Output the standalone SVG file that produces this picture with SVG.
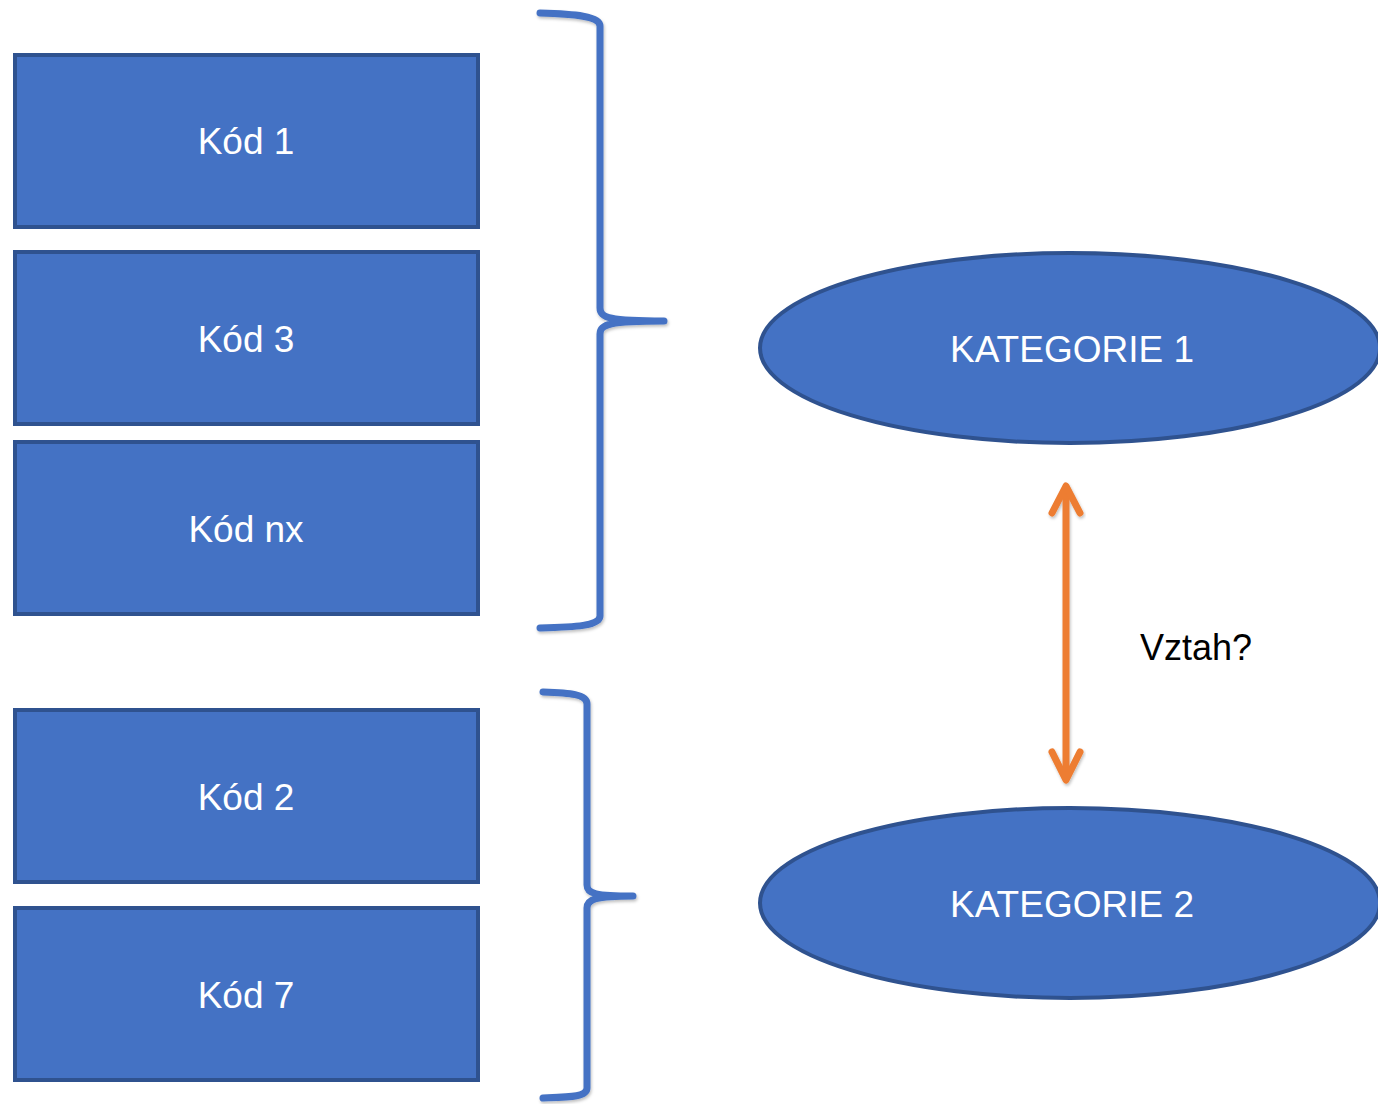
<svg xmlns="http://www.w3.org/2000/svg" width="1378" height="1104" viewBox="0 0 1378 1104">
<defs>
<style>
.box{fill:#4472C4;stroke:#2F528F;stroke-width:4}
.lbl{font-family:"Liberation Sans",Arial,sans-serif;font-size:37px;fill:#FFFFFF;text-anchor:middle}
.brace{fill:none;stroke:#4472C4;stroke-width:7;stroke-linecap:round;stroke-linejoin:round}
.arrow{fill:none;stroke:#ED7D31;stroke-width:7;stroke-linecap:round;stroke-linejoin:round}
</style>
<filter id="sh" x="-20%" y="-5%" width="140%" height="110%">
<feDropShadow dx="1" dy="2" stdDeviation="1.5" flood-color="#000" flood-opacity="0.25"/>
</filter>
</defs>
<rect width="1378" height="1104" fill="#FFFFFF"/>
<g id="kod1"><rect class="box" x="15" y="55" width="463" height="172"/><text class="lbl" x="246" y="154">Kód 1</text></g>
<g id="kod3"><rect class="box" x="15" y="252" width="463" height="172"/><text class="lbl" x="246" y="352">Kód 3</text></g>
<g id="kodnx"><rect class="box" x="15" y="442" width="463" height="172"/><text class="lbl" x="246" y="542">Kód nx</text></g>
<g id="kod2"><rect class="box" x="15" y="710" width="463" height="172"/><text class="lbl" x="246" y="810">Kód 2</text></g>
<g id="kod7"><rect class="box" x="15" y="908" width="463" height="172"/><text class="lbl" x="246" y="1008">Kód 7</text></g>
<g id="kategorie1"><ellipse class="box" cx="1070" cy="348" rx="310" ry="95"/><text class="lbl" x="1072" y="362">KATEGORIE 1</text></g>
<g id="kategorie2"><ellipse class="box" cx="1070" cy="903" rx="310" ry="95"/><text class="lbl" x="1072" y="917">KATEGORIE 2</text></g>
<g id="connectors">
<path class="brace" filter="url(#sh)" d="M540,13 C575,14 600,16 600,26 L600,308 C600,318 610,321 664,321 C610,321 600,324 600,334 L600,616 C600,626 575,627 540,628"/>
<path class="brace" filter="url(#sh)" d="M543,692 C570,693 587,694 587,704 L587,885 C587,894 596,896 633,896 C596,896 587,899 587,908 L587,1088 C587,1097 570,1097 543,1098"/>
<g filter="url(#sh)">
<path class="arrow" d="M1066,490 L1066,776"/>
<path class="arrow" d="M1052,513 L1066,486 L1080,513"/>
<path class="arrow" d="M1052,752 L1066,780 L1080,752"/>
</g>
</g>
<text x="1140" y="660" font-family="Liberation Sans, Arial, sans-serif" font-size="36" fill="#000000">Vztah?</text>
</svg>
